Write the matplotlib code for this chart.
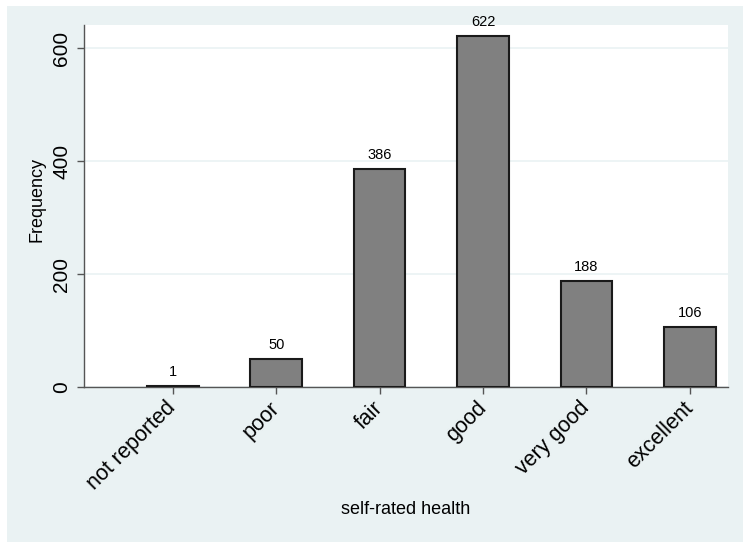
import matplotlib
matplotlib.use("Agg")
import matplotlib.pyplot as plt
from matplotlib.patches import Rectangle

categories = ["not reported", "poor", "fair", "good", "very good", "excellent"]
counts = [1, 50, 386, 622, 188, 106]
yticks = [0, 200, 400, 600]

bg = "#EAF2F3"
plt.rcParams["font.family"] = ["Liberation Sans", "DejaVu Sans"]

fig = plt.figure(figsize=(7.43, 5.42), dpi=100)
fig.patch.set_facecolor("white")
# graph region (starts a few pixels in from the top-left corner)
fig.patches.append(Rectangle((7 / 743, 0), 1, 1 - 6 / 542, transform=fig.transFigure,
                             facecolor=bg, edgecolor="none", zorder=-10))

ax = fig.add_axes([84 / 743, 1 - 387 / 542, 644 / 743, 362 / 542])
ax.set_facecolor("white")

x = list(range(1, len(categories) + 1))
bars = ax.bar(x, counts, width=0.5, color="#808080", edgecolor="#1a1a1a", linewidth=1.5, zorder=3)
for xi, c in zip(x, counts):
    ax.annotate(str(c), (xi, c), xytext=(0, 5), textcoords="offset points",
                ha="center", va="bottom", fontsize=10.5)

ax.set_xlim(0.14, 6.37)
ax.set_ylim(0, 641)
ax.set_yticks(yticks)
ax.set_yticklabels([str(t) for t in yticks], rotation=90, va="center", fontsize=15)
ax.set_xticks(x)
ax.set_xticklabels(categories, rotation=45, ha="right", va="center",
                   rotation_mode="anchor", fontsize=15.5)
ax.tick_params(axis="both", direction="out", length=5, width=1, color="#555555")
ax.tick_params(axis="x", pad=8)
ax.tick_params(axis="y", pad=4)
ax.grid(axis="y", color=bg, linewidth=1.2, zorder=0)

for s in ["top", "right"]:
    ax.spines[s].set_visible(False)
for s in ["left", "bottom"]:
    ax.spines[s].set_color("#555555")
    ax.spines[s].set_linewidth(1)

fig.text(406 / 743, 1 - 510 / 542, "self-rated health", ha="center", va="center", fontsize=13)
fig.text(37 / 743, 1 - 200 / 542, "Frequency", ha="center", va="center", rotation=90, fontsize=13)

fig.savefig("out.png", dpi=100)
